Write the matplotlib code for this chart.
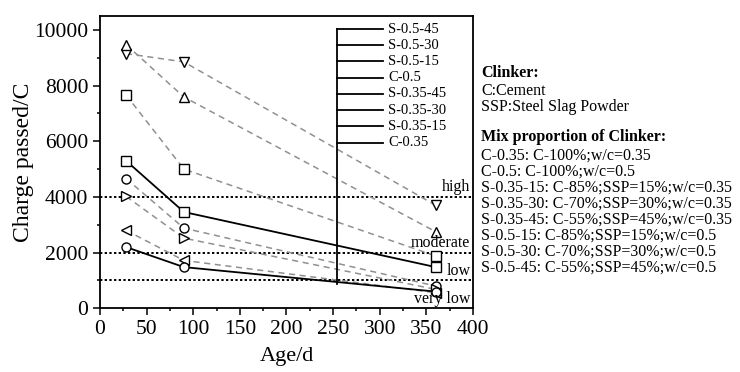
import matplotlib
matplotlib.use("Agg")
import matplotlib.pyplot as plt
from matplotlib.ticker import MultipleLocator

plt.rcParams['font.family'] = ['Liberation Serif', 'DejaVu Serif']
plt.rcParams['mathtext.fontset'] = 'stix'

ages = [28, 90, 360]
series_names = ["S-0.5-45", "S-0.5-30", "S-0.5-15", "C-0.5",
                "S-0.35-45", "S-0.35-30", "S-0.35-15", "C-0.35"]
c_035 = [2200, 1480, 600]
c_05 = [5300, 3460, 1480]
s_035_15 = [2800, 1720, 560]
s_035_30 = [4020, 2520, 680]
s_035_45 = [4660, 2880, 800]
s_05_15 = [7660, 5000, 1880]
s_05_30 = [9470, 7590, 2750]
s_05_45 = [9150, 8850, 3700]

values = {
    "C-0.35": c_035, "C-0.5": c_05,
    "S-0.35-15": s_035_15, "S-0.35-30": s_035_30, "S-0.35-45": s_035_45,
    "S-0.5-15": s_05_15, "S-0.5-30": s_05_30, "S-0.5-45": s_05_45,
}
markers = {
    "C-0.35": "o", "C-0.5": "s",
    "S-0.35-15": "<", "S-0.35-30": ">", "S-0.35-45": "o",
    "S-0.5-15": "s", "S-0.5-30": "^", "S-0.5-45": "v",
}
thresholds = [4000, 2000, 1000]
threshold_labels = ["high", "moderate", "low"]
x_ticks = [0, 50, 100, 150, 200, 250, 300, 350, 400]
y_ticks = [0, 2000, 4000, 6000, 8000, 10000]

notes_head1 = "Clinker:"
notes1 = ["C:Cement", "SSP:Steel Slag Powder"]
notes_head2 = "Mix proportion of Clinker:"
notes2 = ["C-0.35: C-100%;w/c=0.35",
          "C-0.5: C-100%;w/c=0.5",
          "S-0.35-15: C-85%;SSP=15%;w/c=0.35",
          "S-0.35-30: C-70%;SSP=30%;w/c=0.35",
          "S-0.35-45: C-55%;SSP=45%;w/c=0.35",
          "S-0.5-15: C-85%;SSP=15%;w/c=0.5",
          "S-0.5-30: C-70%;SSP=30%;w/c=0.5",
          "S-0.5-45: C-55%;SSP=45%;w/c=0.5"]

fig = plt.figure(figsize=(7.4, 3.72), dpi=100)
ax = fig.add_axes([0.1351, 0.1712, 0.5041, 0.7858])

for name in series_names:
    v = values[name]
    if name.startswith("C"):
        ax.plot(ages, v, color="black", lw=1.3, ls="-", marker=markers[name],
                ms=6.5, mfc="white", mec="black", mew=1.0, zorder=3)
    else:
        ax.plot(ages, v, color="#909090", lw=1.1, ls=(0, (4, 3)), marker=markers[name],
                ms=6.5, mfc="white", mec="black", mew=1.0, zorder=3)

for t in thresholds:
    ax.axhline(t, color="black", lw=1.4, ls=(0, (1.2, 1.2)), zorder=2)

for t, lab in zip(thresholds, threshold_labels):
    ax.text(397, t + 60, lab, ha="right", va="bottom", fontsize=11.5, zorder=4)
ax.text(397, 40, "very low", ha="right", va="bottom", fontsize=11.5, zorder=4)

# legend (lines only, joined by a vertical connector)
lx0, lx1, ltext = 0.635, 0.759, 0.772
ytop, step = 0.9555, 0.0555
ys = [ytop - i * step for i in range(len(series_names))]
for yy, name in zip(ys, series_names):
    ax.plot([lx0, lx1], [yy, yy], transform=ax.transAxes, color="black", lw=1.3, zorder=5)
    ax.text(ltext, yy, name, transform=ax.transAxes, fontsize=10.5, va="center", ha="left")
ax.plot([lx0, lx0], [ytop, 0.083], transform=ax.transAxes, color="black", lw=1.3, zorder=5)

ax.set_xlim(0, 400)
ax.set_ylim(0, 10500)
ax.set_xticks(x_ticks)
ax.set_yticks(y_ticks)
ax.xaxis.set_minor_locator(MultipleLocator(25))
ax.yaxis.set_minor_locator(MultipleLocator(1000))
ax.tick_params(which="both", direction="out", labelsize=15.5, width=1.1)
ax.tick_params(which="major", length=5)
ax.tick_params(which="minor", length=2.5)
for sp in ax.spines.values():
    sp.set_linewidth(1.3)
ax.set_xlabel("Age/d", fontsize=16, labelpad=6)
ax.set_ylabel("Charge passed/C", fontsize=17, labelpad=0)

tx = 0.650
fig.text(tx, 1 - 73.3 / 372, notes_head1, fontsize=11.5, fontweight="bold", va="center")
for i, s in enumerate(notes1):
    fig.text(tx, 1 - (91.0 + 15.5 * i) / 372, s, fontsize=11.5, va="center")
fig.text(tx, 1 - 137.3 / 372, notes_head2, fontsize=11.5, fontweight="bold", va="center")
for i, s in enumerate(notes2):
    fig.text(tx, 1 - (156.0 + 16.0 * i) / 372, s, fontsize=11.5, va="center")

fig.savefig("out.png", dpi=100)
